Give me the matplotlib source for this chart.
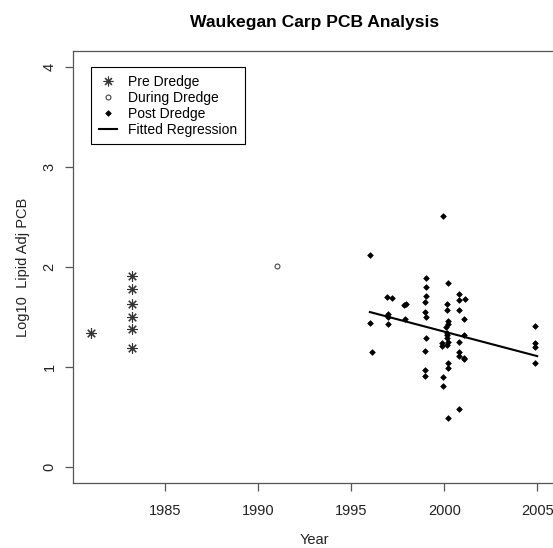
import numpy as np
import matplotlib
matplotlib.use("Agg")
import matplotlib.pyplot as plt
from matplotlib.lines import Line2D

plt.rcParams['font.family'] = ['Liberation Sans', 'DejaVu Sans']

# pre dredge
pre_years = [1981.0, 1983.2, 1983.2, 1983.2, 1983.2, 1983.2, 1983.2]
pre_values = [1.34, 1.91, 1.78, 1.63, 1.50, 1.38, 1.19]

# during dredge
during_years = [1991.0]
during_values = [2.01]

# post dredge
post_years = [1999.94, 1996.0, 1999.04, 2000.2, 1999.04, 1996.9, 1997.2,
              2000.8, 2001.1, 2000.8, 1999.04, 1998.95, 1997.93, 1997.84,
              2000.17, 2000.17, 2000.8, 1998.95, 1997.0, 1997.0, 1999.04,
              1996.0, 1996.95, 1997.87, 2001.07, 2000.2, 2000.2, 2000.12,
              2004.9, 2000.17, 2000.17, 2001.07, 2000.17, 1999.04, 2000.8,
              1999.9, 2000.2, 1999.9, 2000.17, 2004.9, 2004.9, 1998.95,
              2000.8, 2000.8, 2001.07, 2001.07, 1996.1, 2000.2, 2004.9,
              2000.2, 1998.95, 1998.95, 1999.94, 1999.94, 2000.8, 2000.2]
post_values = [2.51, 2.12, 1.89, 1.84, 1.80, 1.70, 1.69,
               1.73, 1.68, 1.67, 1.71, 1.65, 1.63, 1.62,
               1.63, 1.57, 1.57, 1.55, 1.53, 1.50, 1.50,
               1.44, 1.43, 1.48, 1.48, 1.46, 1.43, 1.40,
               1.41, 1.34, 1.32, 1.32, 1.29, 1.29, 1.25,
               1.24, 1.25, 1.21, 1.22, 1.24, 1.20, 1.16,
               1.15, 1.11, 1.09, 1.08, 1.15, 1.04, 1.04,
               0.99, 0.97, 0.91, 0.90, 0.81, 0.58, 0.49]

# fitted regression line
fit_years = [1996.0, 2005.0]
fit_values = [1.55, 1.11]

x_ticks = [1985, 1990, 1995, 2000, 2005]
y_ticks = [0, 1, 2, 3, 4]

fs = 10.5
txt_col = "#222222"

fig = plt.figure(figsize=(5.53, 5.48), dpi=100)
ax = fig.add_axes([0.1326, 0.1181, 0.871, 0.7894])

ax.plot(pre_years, pre_values, ls="none", marker=(8, 2, 0), ms=7.5,
        mew=0.8, color="#333333")
ax.plot(during_years, during_values, ls="none", marker="o", ms=3.5,
        mfc="none", mew=0.8, color="#444444")
ax.plot(post_years, post_values, ls="none", marker="D", ms=2.9,
        mew=0.5, color="black")
ax.plot(fit_years, fit_values, color="black", lw=1.5)

ax.set_xlim(1980.04, 2005.96)
ax.set_ylim(-0.16, 4.16)
ax.set_xticks(x_ticks)
ax.set_yticks(y_ticks)
ax.set_yticklabels([str(v) for v in y_ticks], rotation=90, va="center")

for s in ax.spines.values():
    s.set_color("#555555")
    s.set_linewidth(0.9)
ax.tick_params(length=6, width=0.9, color="#555555", labelsize=fs,
               labelcolor=txt_col)
ax.tick_params(axis="x", pad=9)
ax.tick_params(axis="y", pad=6)

ax.set_xlabel("Year", fontsize=fs, color=txt_col, labelpad=11)
ax.set_ylabel("Log10  Lipid Adj PCB", fontsize=fs, color=txt_col,
              labelpad=9)
ax.set_title("Waukegan Carp PCB Analysis", fontsize=12.6,
             fontweight="bold", pad=17)

handles = [
    Line2D([], [], ls="none", marker=(8, 2, 0), ms=7, mew=0.8,
           color="#333333"),
    Line2D([], [], ls="none", marker="o", ms=3.5, mfc="none", mew=0.8,
           color="#444444"),
    Line2D([], [], ls="none", marker="D", ms=2.9, mew=0.5, color="black"),
    Line2D([], [], color="black", lw=1.5),
]
labels = ["Pre Dredge", "During Dredge", "Post Dredge", "Fitted Regression"]
leg = ax.legend(handles, labels, loc="upper left",
                bbox_to_anchor=(0.0367, 0.962), borderaxespad=0,
                fontsize=10, fancybox=False, framealpha=1,
                edgecolor="black", handlelength=1.35, handletextpad=0.75,
                labelspacing=0.14, borderpad=0.55)
leg.get_frame().set_linewidth(0.8)

fig.savefig("out.png", dpi=100)
